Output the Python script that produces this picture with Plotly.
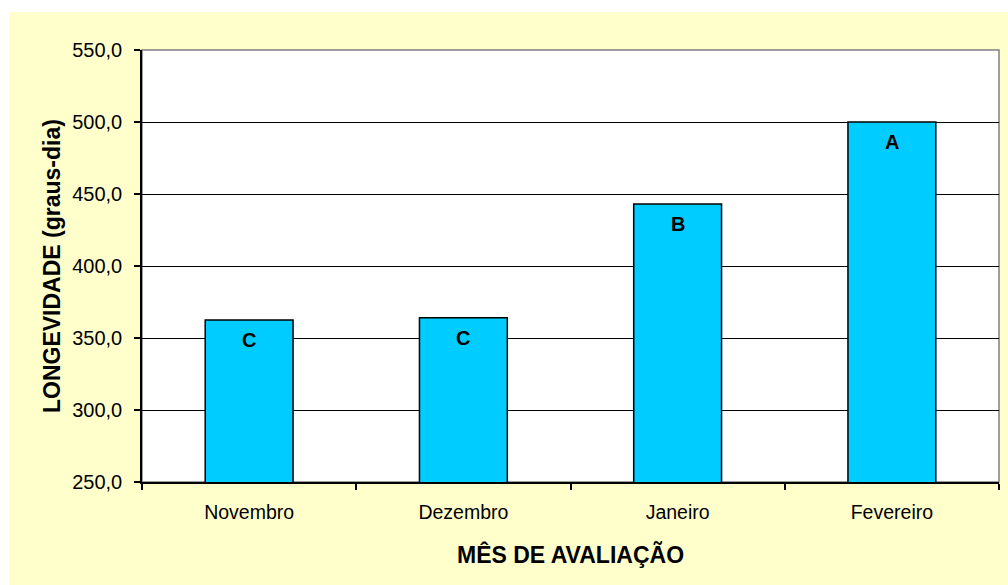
import plotly.graph_objects as go

# Longevidade média por mês de avaliação (graus-dia)
meses = ["Novembro", "Dezembro", "Janeiro", "Fevereiro"]
longevidade = [362.5, 364.0, 443.0, 500.0]
letras = ["C", "C", "B", "A"]
y_ticks = [250, 300, 350, 400, 450, 500, 550]

FONT = "Liberation Sans, Arial, sans-serif"
L, R, T, B = 142, 9, 50, 103
W, H = 1008, 585
plot_w = W - L - R
plot_h = H - T - B


def px_x(p):
    return (p - L) / plot_w


def px_y(p):
    return (H - B - p) / plot_h


fig = go.Figure()
fig.add_trace(go.Bar(
    x=meses,
    y=longevidade,
    width=0.41,
    marker=dict(color="#00CCFF", line=dict(color="#000000", width=1.5)),
    hoverinfo="x+y",
))

# letras de significância dentro das barras
for m, v, t in zip(meses, longevidade, letras):
    fig.add_annotation(
        x=m, y=v, xref="x", yref="y", text=f"<b>{t}</b>",
        showarrow=False, yanchor="middle", yshift=-20,
        font=dict(family=FONT, size=20, color="#000000"),
    )

# títulos dos eixos
fig.add_annotation(
    x=0.5, y=px_y(554), xref="paper", yref="paper",
    text="<b>MÊS DE AVALIAÇÃO</b>", showarrow=False,
    xanchor="center", yanchor="middle",
    font=dict(family=FONT, size=23, color="#000000"),
)
fig.add_annotation(
    x=px_x(52), y=0.5, xref="paper", yref="paper",
    text="<b>LONGEVIDADE (graus-dia)</b>", showarrow=False, textangle=-90,
    xanchor="center", yanchor="middle",
    font=dict(family=FONT, size=23, color="#000000"),
)

# fundo amarelo da área do gráfico e área de plotagem branca
fig.add_shape(
    type="rect", xref="paper", yref="paper", layer="below",
    x0=px_x(9), x1=px_x(W + 20), y0=px_y(H + 20), y1=px_y(12),
    fillcolor="#FFFFCC", line=dict(width=0),
)
fig.add_shape(
    type="rect", xref="paper", yref="paper", layer="below",
    x0=0, x1=1, y0=0, y1=1,
    fillcolor="#FFFFFF", line=dict(color="#808080", width=1.5),
)

fig.update_layout(
    width=W, height=H,
    margin=dict(l=L, r=R, t=T, b=B, pad=0),
    paper_bgcolor="#FFFFFF",
    plot_bgcolor="#FFFFFF",
    separators=",.",
    showlegend=False,
    font=dict(family=FONT, size=20, color="#000000"),
    bargap=0.59,
)
fig.update_xaxes(
    showgrid=False,
    showline=True, linecolor="#000000", linewidth=1.5,
    ticks="outside", tickson="boundaries", ticklen=6,
    tickcolor="#000000", tickwidth=1.5,
    tickfont=dict(family=FONT, size=19.5, color="#000000"),
    ticklabelstandoff=12,
)
fig.update_yaxes(
    range=[250, 550],
    tickvals=y_ticks, tickformat=".1f",
    showgrid=True, gridcolor="#000000", gridwidth=1.3,
    showline=True, linecolor="#000000", linewidth=1.5,
    ticks="outside", ticklen=6, tickcolor="#000000", tickwidth=1.5,
    tickfont=dict(family=FONT, size=20, color="#000000"),
    ticklabelstandoff=8,
    zeroline=False,
)

fig.write_html("out.html")
